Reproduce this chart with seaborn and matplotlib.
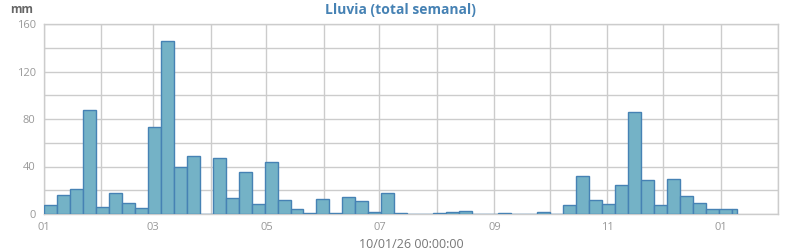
import numpy as np
import pandas as pd
import matplotlib
matplotlib.use("Agg")
import matplotlib.pyplot as plt
import matplotlib.dates as mdates
import seaborn as sns

# ---- data ----
start_date = "2025-01-01"
end_date = "2026-01-10"
rain_mm = [8, 16, 21, 88, 6, 18, 9, 5, 73, 146,
           40, 49, 0, 47, 13.5, 35, 8.5, 44, 12, 4,
           0.8, 12.7, 0.8, 14.4, 11, 1.7, 18, 0.8, 0, 0,
           0.8, 1.7, 2.5, 0, 0, 0.8, 0, 0, 1.7, 0,
           7.6, 32, 12, 8.5, 24.6, 85.5, 29, 7.6, 29.7, 15.3,
           9.3, 4.2, 4.2, 4.2]
title = "Lluvia (total semanal)"
y_unit = "mm"
x_label = "10/01/26 00:00:00"

week_starts = pd.date_range(start_date, periods=len(rain_mm), freq="7D")
edges = list(week_starts) + [pd.Timestamp(end_date)]
edge_nums = [float(v) for v in mdates.date2num(edges)]
x_nums = mdates.date2num(week_starts) + 1.0

df = pd.DataFrame({"x": x_nums, "rain": rain_mm})

sns.set_theme(style="white")
plt.rcParams["font.family"] = ["Open Sans", "DejaVu Sans"]

fig = plt.figure(figsize=(8, 2.5), dpi=100)
ax = fig.add_axes([0.055, 0.144, 0.9175, 0.76])

sns.histplot(data=df, x="x", weights="rain", bins=edge_nums, ax=ax,
             color="#74b2c6", edgecolor="#4682b4", linewidth=1.0, alpha=1.0,
             zorder=3)

ax.set_xlim(mdates.date2num(pd.Timestamp("2025-01-01")),
            mdates.date2num(pd.Timestamp("2026-02-01")))
ax.set_ylim(0, 160)

ax.xaxis.set_major_locator(mdates.MonthLocator(bymonth=[1, 3, 5, 7, 9, 11]))
ax.xaxis.set_major_formatter(mdates.DateFormatter("%m"))
ax.xaxis.set_minor_locator(mdates.MonthLocator())
ax.set_yticks([0, 40, 80, 120, 160])
ax.set_yticks(np.arange(0, 161, 20), minor=True)

ax.grid(True, which="both", color="#cccccc", linewidth=1.0, zorder=0)
ax.set_axisbelow(True)
for s in ax.spines.values():
    s.set_color("#cccccc")
    s.set_linewidth(1.0)

ax.tick_params(axis="both", which="both", length=0, labelsize=8,
               labelcolor="#999999")
ax.tick_params(axis="x", pad=6)
ax.tick_params(axis="y", pad=6)

ax.set_ylabel("")
ax.set_xlabel(x_label, fontsize=9, color="#777777", labelpad=3)

fig.text(0.5, 0.96, title, ha="center", va="center", fontsize=10,
         fontweight="bold", color="#4682b4")
fig.text(0.013, 0.962, y_unit, ha="left", va="center", fontsize=8.5,
         fontweight="bold", color="#666666")

fig.savefig("out.png", dpi=100)
